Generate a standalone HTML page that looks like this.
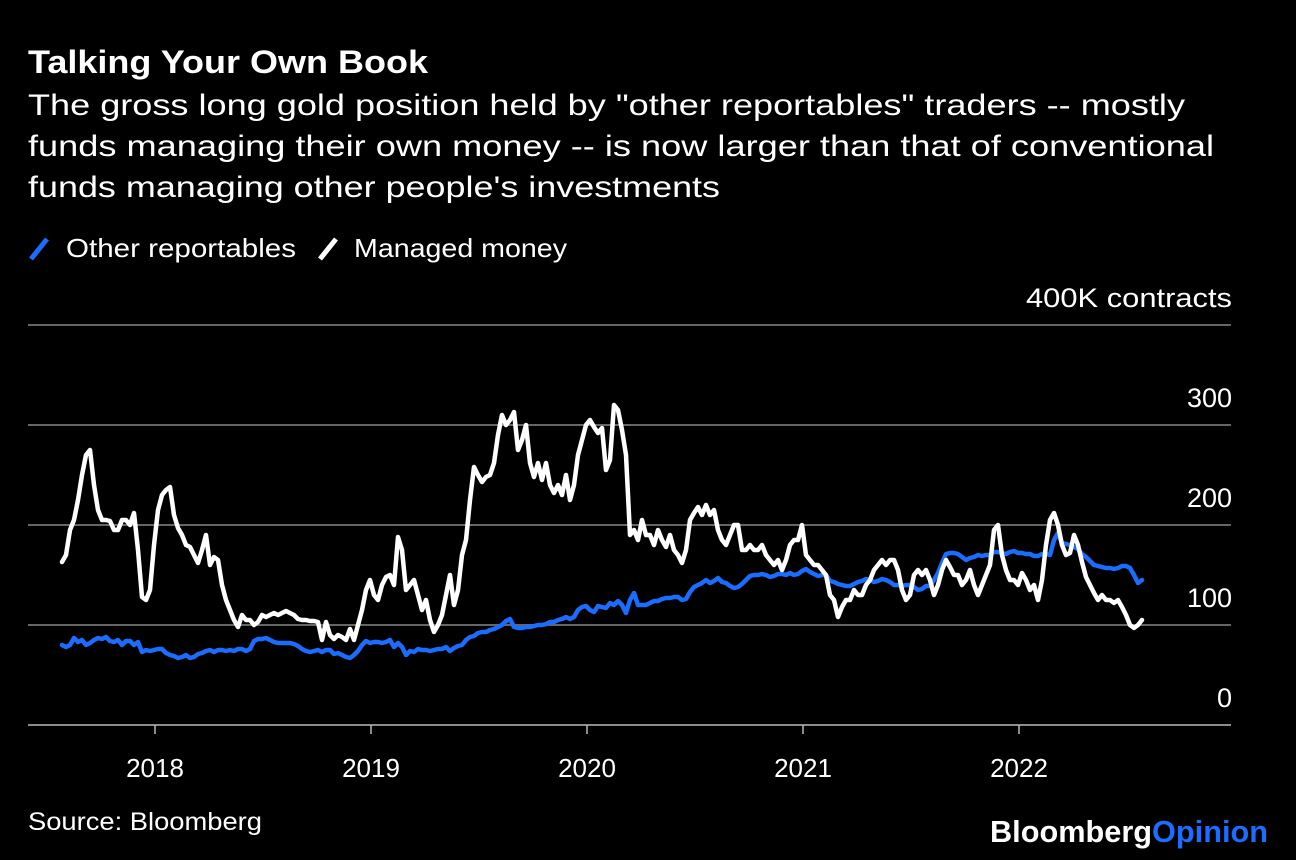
<!DOCTYPE html>
<html><head><meta charset="utf-8">
<style>
html,body{margin:0;padding:0;background:#000;}
body{width:1296px;height:860px;overflow:hidden;font-family:"Liberation Sans",Arial,sans-serif;color:#fff;}
</style></head>
<body>
<svg id="chart" width="1296" height="860" xmlns="http://www.w3.org/2000/svg" style="position:absolute;left:0;top:0;font-family:'Liberation Sans',Arial,sans-serif">
<text x="28" y="73" fill="#fff" font-size="32" font-weight="bold" textLength="400" lengthAdjust="spacingAndGlyphs">Talking Your Own Book</text>
<g fill="#fff" font-size="30">
<text x="28" y="115" textLength="1157" lengthAdjust="spacingAndGlyphs">The gross long gold position held by "other reportables" traders -- mostly</text>
<text x="28" y="156" textLength="1186" lengthAdjust="spacingAndGlyphs">funds managing their own money -- is now larger than that of conventional</text>
<text x="28" y="197" textLength="692" lengthAdjust="spacingAndGlyphs">funds managing other people's investments</text>
</g>
<g>
<line x1="31" y1="259" x2="47" y2="239" stroke="#1a6dff" stroke-width="5"/>
<text x="66" y="257" fill="#fff" font-size="26" textLength="230" lengthAdjust="spacingAndGlyphs">Other reportables</text>
</g>
<g>
<line x1="320" y1="259" x2="336" y2="239" stroke="#fff" stroke-width="5"/>
<text x="354" y="257" fill="#fff" font-size="26" textLength="213" lengthAdjust="spacingAndGlyphs">Managed money</text>
</g>
<g id="grid"></g>
<g id="series"></g>
<text x="28" y="830" fill="#fff" font-size="25" textLength="234" lengthAdjust="spacingAndGlyphs">Source: Bloomberg</text>
<text x="990" y="842" font-size="31" font-weight="bold" textLength="278" lengthAdjust="spacingAndGlyphs"><tspan fill="#fff">Bloomberg</tspan><tspan fill="#1a6dff">Opinion</tspan></text>
</svg>
<script>
const yTicks = [0,100,200,300,400];
const xTickYears = [2018,2019,2020,2021,2022];
const startYear = 2017.5694;
const stepYear = 0.018519;
const managedMoney = [163,170,195,205,225,250,270,275,240,215,205,205,204,195,195,205,205,200,212,175,128,125,135,180,215,230,235,238,210,197,190,180,178,170,162,175,190,160,168,165,140,125,115,105,98,110,105,105,100,103,110,108,110,112,110,112,114,112,110,106,105,105,104,104,103,85,103,90,86,90,88,85,96,85,100,115,135,145,130,125,140,148,150,140,188,175,135,140,145,130,115,125,105,93,100,110,130,150,120,135,170,185,225,258,250,243,248,250,262,290,310,300,305,313,275,285,300,262,248,262,245,262,240,232,240,230,250,225,240,270,285,300,305,298,292,297,255,265,320,315,295,270,190,195,185,205,190,190,180,195,185,178,190,175,170,162,175,205,212,218,210,220,210,215,195,185,180,190,200,200,175,175,180,175,175,180,170,165,160,165,155,165,180,185,185,200,170,165,160,160,155,150,130,125,108,118,125,125,135,130,130,140,145,155,160,165,160,165,165,155,135,125,130,150,155,150,155,145,130,140,155,165,158,150,150,140,145,155,140,130,140,150,160,195,200,170,155,145,145,140,152,145,135,140,125,145,180,205,212,200,180,170,172,190,180,163,148,140,132,125,130,125,125,122,125,118,110,100,97,100,105];
const otherReportables = [80,78,80,87,83,85,80,82,85,87,86,88,84,83,85,80,84,84,80,83,73,75,74,75,76,76,72,70,69,67,68,70,67,68,71,72,74,75,73,75,75,74,75,74,76,76,74,76,84,86,86,87,85,83,82,82,82,82,81,79,76,74,73,74,75,73,75,75,71,72,70,68,67,70,74,80,84,82,83,83,82,83,85,78,82,78,70,74,73,76,75,75,74,75,76,76,78,74,77,79,80,85,88,89,92,93,93,95,96,98,100,104,106,98,97,97,98,98,99,100,100,101,103,103,105,106,108,106,108,115,118,119,115,113,119,118,117,122,120,124,120,112,125,132,120,120,120,122,124,124,126,127,127,128,128,125,126,133,138,140,142,145,142,144,147,143,142,139,137,138,141,145,149,150,150,151,150,148,149,151,151,150,152,150,151,154,156,153,151,149,150,150,144,143,141,140,139,139,141,143,144,146,145,143,144,146,145,143,140,140,139,140,140,138,135,136,139,139,145,152,162,171,172,172,171,168,165,167,168,170,169,170,170,173,173,172,171,173,174,172,172,171,171,169,169,171,171,170,185,192,182,181,180,178,176,171,168,164,160,159,158,157,157,156,157,159,159,157,150,142,145];

const NS = "http://www.w3.org/2000/svg";
const x0 = 155, pxPerYear = 216, y0 = 725, pxPerUnit = 1;
function xScale(year){ return x0 + (year - 2018) * pxPerYear; }
function yScale(v){ return y0 - v * pxPerUnit; }
const grid = document.getElementById('grid');
const series = document.getElementById('series');

yTicks.forEach(function(t){
  const y = yScale(t);
  const line = document.createElementNS(NS,'line');
  line.setAttribute('x1',28); line.setAttribute('x2',1231);
  line.setAttribute('y1',y); line.setAttribute('y2',y);
  line.setAttribute('stroke', t===0 ? '#bbb' : '#666');
  line.setAttribute('stroke-width', t===0 ? 1.5 : 2);
  
  
  grid.appendChild(line);
  const lab = document.createElementNS(NS,'text');
  lab.setAttribute('x',1232); lab.setAttribute('y',y - 18);
  lab.setAttribute('text-anchor','end'); lab.setAttribute('fill','#fff');
  lab.setAttribute('font-size','27');
  lab.textContent = t===400 ? '400K contracts' : String(t);
  if (t===400) { lab.setAttribute('textLength','206'); lab.setAttribute('lengthAdjust','spacingAndGlyphs'); }
  
  
  grid.appendChild(lab);
});
xTickYears.forEach(function(yr){
  const x = xScale(yr);
  const tk = document.createElementNS(NS,'line');
  tk.setAttribute('x1',x); tk.setAttribute('x2',x);
  tk.setAttribute('y1',y0); tk.setAttribute('y2',y0+9);
  tk.setAttribute('stroke','#bbb'); tk.setAttribute('stroke-width',1.5);
  
  
  grid.appendChild(tk);
  const lab = document.createElementNS(NS,'text');
  lab.setAttribute('x',x); lab.setAttribute('y',777);
  lab.setAttribute('text-anchor','middle'); lab.setAttribute('fill','#fff');
  lab.setAttribute('font-size','26');
  lab.textContent = String(yr);
  
  
  grid.appendChild(lab);
});
function drawLine(vals, color, name){
  const pts = vals.map(function(v,i){ return xScale(startYear + i*stepYear).toFixed(1) + ',' + yScale(v).toFixed(1); });
  const pl = document.createElementNS(NS,'polyline');
  pl.setAttribute('points', pts.join(' '));
  pl.setAttribute('fill','none'); pl.setAttribute('stroke',color);
  pl.setAttribute('stroke-width',4.5); pl.setAttribute('stroke-linejoin','round'); pl.setAttribute('stroke-linecap','round');
  
  
  series.appendChild(pl);
}
drawLine(otherReportables, '#1a6dff', 'other-reportables-line');
drawLine(managedMoney, '#ffffff', 'managed-money-line');
</script>
</body></html>
